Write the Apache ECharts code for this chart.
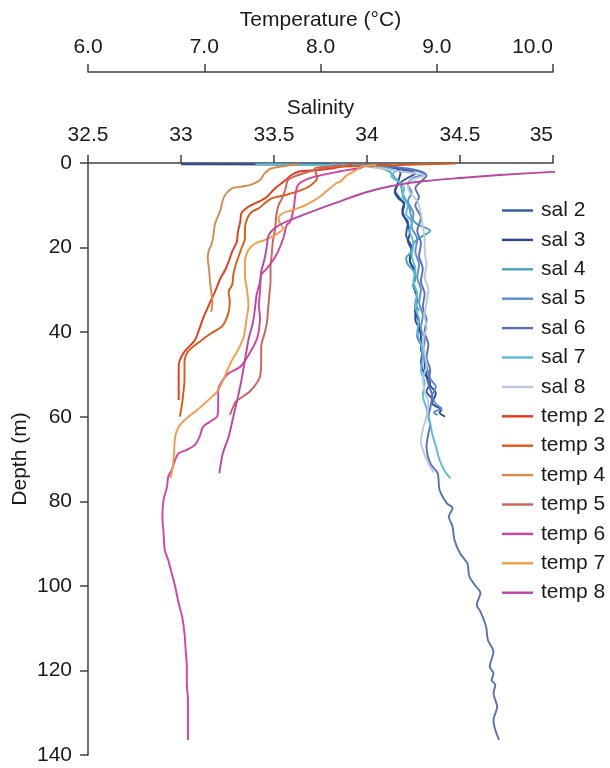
<!DOCTYPE html>
<html><head><meta charset="utf-8">
<script src="https://cdn.jsdelivr.net/npm/echarts@6/dist/echarts.min.js"></script>
<style>html,body{margin:0;padding:0;background:#fff}#c{width:610px;height:768px}</style>
</head><body><div id="c"></div>
<script>
// [depth (m), salinity]
const sal2 = [[0.2,33.55],[0.5,33.95],[0.8,34.08],[1.5,34.18],[2.5,34.26],[3.5,34.22],[5,34.17],[6.5,34.15],[8,34.17],[10,34.20],[12,34.19],[14,34.22],[17,34.21],[20,34.24],[23,34.23],[26,34.26],[29,34.25],[32,34.27],[35,34.26],[38,34.28],[41,34.27],[44,34.30],[47,34.29],[50,34.31],[52,34.34],[54,34.32],[56,34.36]];
const sal3 = [[0.3,33.00],[0.5,34.12],[2.4,34.18],[4,34.17],[5.6,34.16],[7,34.15],[8.4,34.17],[9.5,34.20],[11,34.19],[12.7,34.20],[14.5,34.22],[16.6,34.23],[18.5,34.22],[20.6,34.24],[23,34.23],[25,34.25],[26.9,34.26],[29,34.25],[31.6,34.27],[34,34.26],[37.1,34.26],[39,34.28],[41.1,34.29],[44.2,34.29],[46,34.31],[48.2,34.31],[50,34.32],[52.1,34.33],[54.5,34.37],[56.8,34.35],[58.4,34.40],[59,34.39],[60,34.42]];
const sal4 = [[0.3,33.45],[0.6,33.9],[1,34.05],[2,34.12],[3.5,34.15],[5,34.18],[7,34.19],[9,34.21],[11,34.23],[13,34.24],[14.5,34.27],[16,34.34],[17.5,34.29],[19,34.25],[21,34.24],[22.5,34.21],[24,34.22],[25.5,34.25],[27,34.26],[29,34.25],[31,34.27],[33,34.26],[35,34.28]];
const sal5 = [[0.3,33.8],[0.8,34.1],[1.5,34.25],[2.5,34.31],[3.5,34.25],[5,34.22],[7,34.24],[9,34.22],[12,34.25],[15,34.24],[18,34.27],[21,34.26],[24,34.28],[27,34.27],[30,34.29],[33,34.28],[36,34.30],[39,34.29],[42,34.31],[45,34.30],[48,34.32],[51,34.34],[53,34.37],[55,34.35],[57,34.37],[58,34.40],[59,34.36],[59.6,34.38]];
const sal6 = [[0.3,34.0],[1,34.15],[2,34.28],[3,34.32],[4,34.30],[6,34.26],[8,34.28],[10,34.26],[13,34.29],[16,34.27],[19,34.29],[22,34.28],[25,34.30],[28,34.29],[31,34.31],[34,34.30],[37,34.32],[40,34.31],[43,34.33],[46,34.32],[49,34.34],[52,34.33],[55,34.35],[58,34.34],[60,34.33],[62,34.34],[64,34.33],[67,34.32],[71,34.34],[73.4,34.38],[77.3,34.39],[80.5,34.43],[81.6,34.46],[83.6,34.44],[86,34.46],[89.1,34.47],[92.3,34.50],[94.7,34.54],[97.8,34.55],[99.8,34.58],[101.7,34.61],[104.5,34.59],[106.1,34.61],[109.6,34.64],[112.8,34.65],[115.6,34.68],[119.1,34.66],[120.7,34.68],[122.3,34.67],[123.4,34.69],[125.4,34.68],[128.6,34.70],[131.7,34.68],[134.1,34.69],[136.4,34.71]];
const sal7 = [[0.3,33.4],[0.6,33.95],[1,34.08],[2,34.15],[3,34.13],[4.5,34.17],[6,34.20],[8,34.19],[10,34.22],[12,34.21],[14,34.24],[16,34.23],[19,34.25],[22,34.24],[25,34.26],[28,34.25],[31,34.27],[34,34.26],[37,34.28],[40,34.27],[43,34.29],[46,34.30],[49,34.29],[52,34.31],[55,34.30],[58,34.32],[61.6,34.34],[63.9,34.35],[67,34.37],[70.2,34.39],[73,34.42],[74.6,34.45]];
const sal8 = [[1,34.03],[2,34.18],[3,34.31],[4,34.24],[5.5,34.22],[7,34.23],[9,34.27],[12,34.29],[15,34.30],[18,34.31],[21,34.31],[24,34.32],[27,34.31],[30,34.33],[33,34.32],[36,34.31],[39,34.32],[42,34.30],[45,34.31],[48,34.32],[51,34.30],[54,34.31],[57,34.33],[60,34.32],[63,34.30],[66,34.29],[69,34.31],[71,34.33],[73.2,34.36]];

// [depth (m), temperature °C]
const temp2 = [[0.4,8.27],[1.25,8.11],[1.66,7.98],[2.06,7.81],[2.84,7.75],[4.02,7.70],[5.98,7.61],[7.97,7.54],[9.15,7.47],[10.33,7.38],[11.89,7.32],[13.88,7.31],[16.24,7.29],[18.61,7.28],[20.97,7.24],[23.34,7.21],[25.3,7.18],[27.26,7.14],[29.25,7.11],[31.21,7.08],[33.58,7.04],[36.72,6.99],[39.09,6.96],[41.85,6.92],[45.0,6.82],[48.17,6.78],[51.31,6.78],[56.04,6.78]];
const temp3 = [[0.12,9.16],[0.47,8.68],[0.83,8.17],[1.25,7.95],[3.62,7.97],[5.2,7.92],[6.38,7.84],[7.57,7.70],[8.35,7.58],[9.53,7.52],[10.71,7.47],[11.52,7.41],[13.08,7.37],[15.44,7.35],[17.81,7.35],[20.17,7.32],[22.53,7.29],[24.12,7.27],[26.48,7.25],[28.85,7.24],[30.43,7.21],[32.8,7.22],[35.16,7.21],[37.53,7.18],[38.71,7.15],[40.27,7.06],[41.85,6.98],[44.62,6.86],[47.36,6.83],[51.31,6.83],[54.39,6.82],[56.82,6.81],[59.99,6.79]];
const temp4 = [[0.3,7.82],[1.25,7.58],[2.44,7.52],[4.02,7.48],[5.04,7.41],[5.6,7.32],[5.98,7.24],[7.16,7.19],[8.75,7.16],[11.1,7.14],[13.1,7.11],[14.66,7.09],[17.0,7.08],[19.4,7.06],[20.6,7.04],[22.5,7.03],[24.9,7.04],[28.1,7.05],[30.4,7.06],[32.8,7.07],[35.2,7.06]];
const temp5 = [[0.47,8.17],[1.66,7.95],[2.84,7.81],[4.02,7.72],[5.98,7.70],[8.35,7.67],[9.93,7.64],[12.3,7.62],[15.44,7.61],[18.61,7.59],[21.75,7.58],[24.9,7.57],[28.07,7.57],[31.21,7.56],[34.36,7.55],[37.53,7.54],[40.2,7.52],[43.44,7.49],[46.58,7.49],[50.53,7.48],[52.09,7.45],[54.08,7.39],[55.64,7.31],[56.44,7.27],[57.63,7.25],[59.59,7.22]];
const temp6 = [[0.71,8.38],[1.18,8.34],[1.96,8.17],[3.24,7.95],[4.42,7.84],[5.6,7.80],[8.35,7.78],[10.71,7.77],[13.88,7.74],[14.66,7.71],[17.81,7.68],[21.75,7.62],[24.9,7.54],[26.48,7.49],[30.43,7.48],[33.58,7.47],[36.72,7.48],[39.5,7.47],[41.85,7.45],[45.0,7.39],[48.17,7.31],[49.73,7.21],[51.71,7.15],[53.68,7.12],[57.63,7.12],[59.99,7.11],[61.17,7.05],[62.36,6.99],[64.72,6.96],[66.68,6.92],[67.86,6.85],[68.65,6.78],[70.23,6.75],[72.59,6.72],[74.18,6.69],[76.54,6.68],[79.69,6.65],[83.64,6.64],[87.56,6.65],[91.51,6.66],[93.88,6.69],[97.02,6.72],[100.19,6.75],[104.12,6.78],[107.28,6.81],[111.21,6.83],[115.16,6.84],[119.11,6.85],[123.03,6.85],[126.98,6.86],[131.71,6.86],[136.44,6.86]];
const temp7 = [[0.47,8.48],[0.87,8.35],[1.66,8.31],[2.84,8.23],[4.42,8.17],[4.73,8.14],[6.69,8.05],[7.87,8.00],[9.86,7.88],[11.04,7.77],[11.82,7.68],[13.0,7.64],[14.19,7.65],[15.44,7.68],[17.03,7.61],[18.21,7.52],[18.99,7.44],[20.57,7.38],[23.34,7.35],[26.48,7.35],[30.43,7.37],[33.58,7.38],[37.53,7.36],[41.07,7.34],[44.22,7.29],[46.58,7.24],[48.95,7.20],[52.09,7.15],[54.08,7.11],[56.44,7.02],[58.41,6.94],[60.37,6.85],[62.36,6.78],[64.72,6.75],[68.65,6.74],[71.81,6.73],[74.56,6.71]];
const temp8 = [[1.6,10.4],[2.1,10.0],[2.84,9.54],[3.55,9.20],[4.33,8.88],[5.51,8.60],[7.09,8.37],[9.06,8.17],[11.04,7.97],[12.6,7.82],[14.19,7.68],[15.77,7.59],[17.33,7.55],[19.39,7.54],[22.53,7.52],[25.7,7.49],[28.07,7.48],[31.21,7.45],[33.58,7.44],[37.53,7.42],[40.67,7.39],[41.85,7.38],[46.58,7.35],[51.31,7.32],[55.26,7.29],[59.99,7.25],[64.72,7.21],[68.65,7.16],[73.37,7.13]];

const seriesNames = ['sal 2','sal 3','sal 4','sal 5','sal 6','sal 7','sal 8','temp 2','temp 3','temp 4','temp 5','temp 6','temp 7','temp 8'];
const seriesData = [sal2,sal3,sal4,sal5,sal6,sal7,sal8,temp2,temp3,temp4,temp5,temp6,temp7,temp8];
const seriesColors = ['#3157a6','#2b479a','#4aa3b4','#5b8fca','#5a70b6','#5bbcd7','#b9c8df','#e8391b','#df5912','#d98a4b','#cc6258','#d6409e','#f59c46','#b9469f'];

const salTicks = {min:32.5, max:35, interval:0.5};
const tempTicks = {min:6, max:10, interval:1};
const depthTicks = {min:0, max:140, interval:20};

const FONT = '"Liberation Sans", Arial, Helvetica, sans-serif';
const FS = 21;
const axisCol = '#404040';
const txt = '#1a1a1a';

const chart = echarts.init(document.getElementById('c'), null, {renderer:'canvas'});
chart.setOption({
  animation:false,
  textStyle:{fontFamily:FONT},
  grid:{left:88, right:57, top:163, bottom:13, containLabel:false, outerBoundsMode:'none'},
  legend:{
    orient:'vertical', left:497, top:195,
    itemWidth:31, itemHeight:14, itemGap:8.4,
    textStyle:{fontSize:FS, color:txt, fontFamily:FONT, padding:[0,0,0,3]},
    data: seriesNames.map(n=>({name:n, icon:'path://M0,0 L31,0 L31,2.4 L0,2.4 Z'}))
  },
  xAxis:[
    {type:'value', position:'top', min:salTicks.min, max:salTicks.max, interval:salTicks.interval,
     name:'Salinity', nameLocation:'middle', nameGap:44, nameMoveOverlap:false,
     nameTextStyle:{fontSize:FS, color:txt, fontFamily:FONT},
     axisLine:{show:true, onZero:false, lineStyle:{color:axisCol, width:1.5}},
     axisTick:{show:true, length:8, lineStyle:{color:axisCol, width:1.5}},
     axisLabel:{fontSize:FS, color:txt, margin:17, fontFamily:FONT, alignMaxLabel:'right'},
     splitLine:{show:false}},
    {type:'value', position:'top', offset:91, min:tempTicks.min, max:tempTicks.max, interval:tempTicks.interval,
     name:'Temperature (°C)', nameLocation:'middle', nameGap:41, nameMoveOverlap:false,
     nameTextStyle:{fontSize:FS, color:txt, fontFamily:FONT},
     axisLine:{show:true, onZero:false, lineStyle:{color:axisCol, width:1.5}},
     axisTick:{show:true, length:8, lineStyle:{color:axisCol, width:1.5}},
     axisLabel:{fontSize:FS, color:txt, margin:14, fontFamily:FONT, alignMaxLabel:'right', formatter:v=>v.toFixed(1)},
     splitLine:{show:false}}
  ],
  yAxis:[{type:'value', inverse:true, min:depthTicks.min, max:depthTicks.max, interval:depthTicks.interval,
     name:'Depth (m)', nameLocation:'middle', nameGap:57, nameMoveOverlap:false,
     nameTextStyle:{fontSize:FS, color:txt, fontFamily:FONT},
     axisLine:{show:true, onZero:false, lineStyle:{color:axisCol, width:1.5}},
     axisTick:{show:true, length:8, lineStyle:{color:axisCol, width:1.5}},
     axisLabel:{fontSize:FS, color:txt, margin:16, fontFamily:FONT},
     splitLine:{show:false}}],
  series: seriesNames.map((n,i)=>({
    name:n, type:'line', xAxisIndex: n.startsWith('sal')?0:1, yAxisIndex:0,
    data: seriesData[i].map(p=>[p[1],p[0]]),
    symbol:'none', smooth:0.3, clip:true,
    lineStyle:{color:seriesColors[i], width:1.9},
    itemStyle:{color:seriesColors[i]}
  }))
});
</script></body></html>
